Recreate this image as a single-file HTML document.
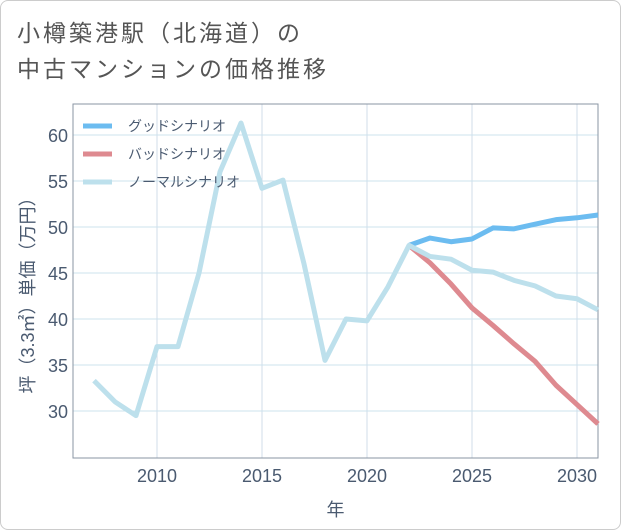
<!DOCTYPE html>
<html><head><meta charset="utf-8"><style>
body{margin:0;background:#fff;}
#wrap{position:relative;width:619px;height:528px;border:1px solid #ccc;border-radius:8px;overflow:hidden;font-family:"Liberation Sans","Noto Sans CJK JP",sans-serif;}
#title{position:absolute;left:16px;top:14px;font-size:23px;letter-spacing:3px;line-height:36px;color:#555;}
svg{position:absolute;left:0;top:0;}
</style></head><body>
<div id="wrap">
<div id="title">小樽築港駅（北海道）の<br>中古マンションの価格推移</div>
<svg id="chart" width="621" height="530"></svg>
</div>
<script>
const years=[2007,2008,2009,2010,2011,2012,2013,2014,2015,2016,2017,2018,2019,2020,2021,2022,2023,2024,2025,2026,2027,2028,2029,2030,2031];
const normal=[33.3,31,29.5,37,37,45,56,61.3,54.2,55.1,46,35.5,40,39.8,43.5,48,46.8,46.5,45.3,45.1,44.2,43.6,42.5,42.2,41];
const goodYears=[2022,2023,2024,2025,2026,2027,2028,2029,2030,2031];
const good=[48,48.8,48.4,48.7,49.9,49.8,50.3,50.8,51,51.3];
const bad=[48,46.1,43.8,41.2,39.3,37.3,35.4,32.8,30.7,28.6];
const xTicks=[2010,2015,2020,2025,2030];
const yTicks=[30,35,40,45,50,55,60];
const legendLabels=["グッドシナリオ","バッドシナリオ","ノーマルシナリオ"];
const colors=["#6cbcf0","#de8a90","#bde0ec"];
const L=72,R=597,T=103,B=457;
const x=v=>156+(v-2010)*21;
const y=v=>410-(v-30)*9.2;
const svg=document.getElementById('chart');
const NS='http://www.w3.org/2000/svg';
function mk(t,a){const e=document.createElementNS(NS,t);for(const k in a)e.setAttribute(k,a[k]);svg.appendChild(e);return e;}
xTicks.forEach(v=>{const l=mk('line',{x1:x(v),x2:x(v),y1:T,y2:B,stroke:'#d0dce8','stroke-width':1});

const t=mk('text',{x:x(v),y:B+24,'text-anchor':'middle','font-size':18,fill:'#4a5a70'});t.textContent=v;
});
yTicks.forEach(v=>{const l=mk('line',{x1:L,x2:R,y1:y(v),y2:y(v),stroke:'#cde3ee','stroke-width':1});

const t=mk('text',{x:L-5,y:y(v)+7,'text-anchor':'end','font-size':18,fill:'#4a5a70'});t.textContent=v;
});
const ax=mk('path',{d:`M${L},${T}V${B}H${R}V${T}Z`,fill:'none',stroke:'#8a95a3','stroke-width':1});

function line(xs,vs,c,name){const p=mk('polyline',{points:xs.map((v,i)=>x(v)+','+y(vs[i])).join(' '),fill:'none',stroke:c,'stroke-width':5,'stroke-linejoin':'round'});
}
line(goodYears,bad,colors[1],'bad-scenario-line');
line(goodYears,good,colors[0],'good-scenario-line');
line(years,normal,colors[2],'normal-scenario-line');
legendLabels.forEach((s,i)=>{const yy=125+i*28;
const l=mk('line',{x1:82,x2:111,y1:yy,y2:yy,stroke:colors[i],'stroke-width':5});

const t=mk('text',{x:127,y:yy+5,'font-size':14,fill:'#4a5a70'});t.textContent=s;
});
const yt=mk('text',{transform:`translate(33,${(T+B)/2+10}) rotate(-90)`,'text-anchor':'middle','font-size':18,fill:'#4a5a70'});
yt.textContent='坪（3.3㎡）単価（万円）';
const xt=mk('text',{x:(L+R)/2,y:515,'text-anchor':'middle','font-size':18,fill:'#4a5a70'});
xt.textContent='年';
</script>
</body></html>
